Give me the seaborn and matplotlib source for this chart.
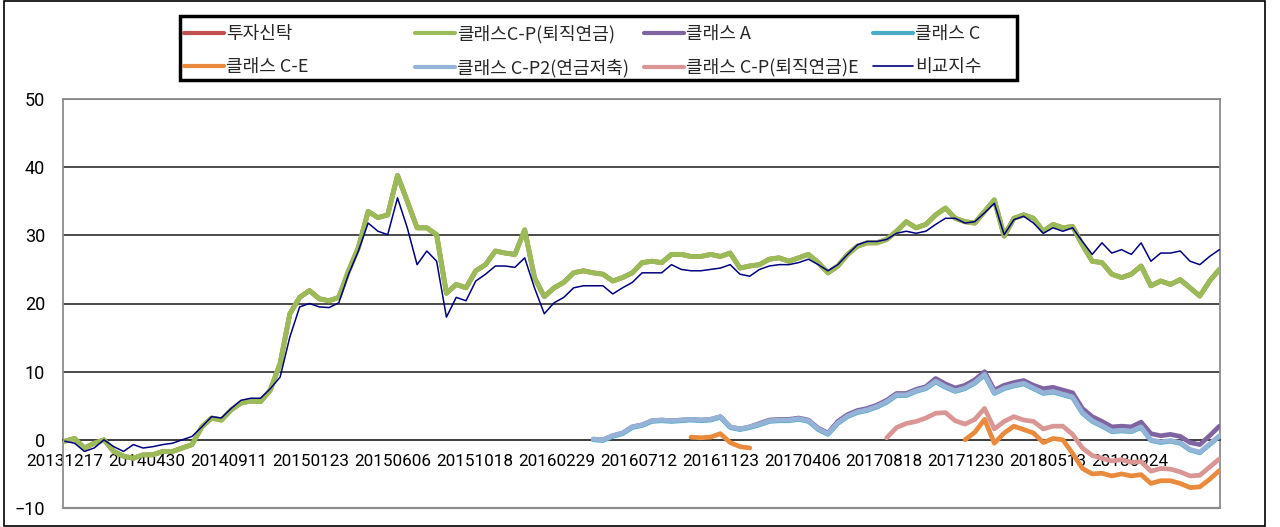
import matplotlib
matplotlib.use("Agg")
import matplotlib.pyplot as plt
from matplotlib.lines import Line2D
from matplotlib.patches import Rectangle
import seaborn as sns
import pandas as pd

# x grid: one reading every 16 days from the first date
start = pd.Timestamp("2013-12-17")
dates = pd.date_range(start, periods=119, freq="16D")

tick_labels = ["20131217", "20140430", "20140911", "20150123", "20150606",
               "20151018", "20160229", "20160712", "20161123", "20170406",
               "20170818", "20171230", "20180513", "20180924"]

# ---- series values ----
cp_vals = [-0.2, 0.2, -1.2, -0.5, 0.0, -1.7, -2.4, -2.7, -2.2, -2.2, -1.7, -1.7, -1.2, -0.7,
           1.9, 3.2, 2.9, 4.4, 5.4, 5.7, 5.6, 7.3, 11.2, 18.5, 20.9, 21.9, 20.7,
           20.4, 20.9, 24.8, 28.2, 33.5, 32.6, 33.0, 38.8, 35.0, 31.1, 31.1, 30.1, 21.5,
           22.8, 22.3, 24.8, 25.7, 27.7, 27.4, 27.2, 30.8, 23.8, 21.0, 22.3, 23.1, 24.5,
           24.8, 24.5,
           24.3, 23.3, 23.8, 24.5, 26.0, 26.2, 26.0, 27.2, 27.2, 26.9, 26.9, 27.2, 26.9,
           27.4, 25.2, 25.5, 25.7, 26.5, 26.7, 26.2, 26.7, 27.2, 26.0, 24.5, 25.5, 27.2,
           28.4, 28.9, 28.9, 29.4, 30.6,
           32.0, 31.1, 31.6, 33.0, 34.0, 32.5, 32.0, 31.8, 33.5, 35.2, 29.9, 32.5, 33.0,
           32.5, 30.6, 31.6, 31.1, 31.3, 28.6, 26.2, 26.0, 24.3, 23.8, 24.3, 25.5, 22.6,
           23.3, 22.8, 23.5, 22.3, 21.1, 23.3, 25.0]
trust_vals = list(cp_vals)  # sits right under the green line

index_vals = [-0.2, -0.5, -1.7, -1.2, 0.0, -1.0, -1.7, -0.7, -1.2, -1.0, -0.7, -0.5, 0.0, 0.5,
              1.9, 3.4, 3.2, 4.6, 5.8, 6.1, 6.1, 7.5, 9.2, 15.1, 19.5, 20.0, 19.5,
              19.4, 20.1, 24.3, 27.7, 31.8, 30.6, 30.1, 35.5, 31.1, 25.7, 27.7, 26.2, 18.0,
              20.9, 20.4, 23.3, 24.3, 25.5, 25.5, 25.3, 26.7, 22.3, 18.5, 20.1, 20.9, 22.3,
              22.6, 22.6,
              22.6, 21.4, 22.3, 23.1, 24.5, 24.5, 24.5, 25.7, 25.0, 24.8, 24.8, 25.0, 25.2,
              25.7, 24.3, 24.0, 25.0, 25.5, 25.7, 25.7, 26.0, 26.5, 25.7, 24.8, 25.7, 27.2,
              28.6, 29.1, 29.1, 29.4, 30.3,
              30.6, 30.3, 30.6, 31.6, 32.5, 32.5, 31.8, 32.0, 33.3, 34.7, 30.1, 32.3, 32.8,
              31.8, 30.3, 31.1, 30.6, 31.1, 29.1, 27.2, 28.9, 27.4, 27.9, 27.2, 28.9, 26.2,
              27.4, 27.4, 27.7, 26.2, 25.7, 26.9, 27.9]

class_a_start = 54
class_a_vals = [0.1, 0.0, 0.6, 1.0, 1.9, 2.2, 2.8, 2.9, 2.8, 2.9, 3.0, 2.9, 3.0, 3.4, 1.9,
                1.6, 1.9, 2.4, 2.9, 3.0, 3.0, 3.2, 2.9, 1.7, 1.0, 2.7, 3.7, 4.3, 4.6, 5.1,
                5.8, 6.8, 6.8, 7.4, 7.8, 9.0, 8.2, 7.6, 8.0, 8.8, 10.0, 7.3, 8.0, 8.4, 8.7,
                8.0, 7.5, 7.7, 7.3, 6.9, 4.6, 3.4, 2.7, 1.9, 2.0, 1.9, 2.6, 0.9, 0.6, 0.8,
                0.5, -0.4, -0.7, 0.6, 2.0]

class_c_start = 54
class_c_vals = [0.0, -0.1, 0.5, 0.9, 1.8, 2.1, 2.7, 2.8, 2.7, 2.8, 2.9, 2.8, 2.9, 3.3, 1.8,
                1.5, 1.8, 2.2, 2.7, 2.8, 2.8, 3.0, 2.7, 1.5, 0.8, 2.4, 3.4, 4.0, 4.3, 4.8,
                5.5, 6.5, 6.5, 7.1, 7.5, 8.5, 7.7, 7.1, 7.5, 8.3, 9.5, 6.8, 7.5, 7.9, 8.2,
                7.5, 6.8, 7.0, 6.6, 6.2, 3.9, 2.7, 2.0, 1.2, 1.3, 1.2, 1.8, -0.1, -0.4, -0.2,
                -0.5, -1.5, -1.9, -0.7, 0.5]

class_cp2_start = 54
class_cp2_vals = [0.1, 0.0, 0.6, 1.0, 1.9, 2.2, 2.8, 2.9, 2.8, 2.9, 3.0, 2.9, 3.0, 3.4, 1.9,
                  1.6, 1.9, 2.3, 2.8, 2.9, 2.9, 3.1, 2.8, 1.6, 0.9, 2.5, 3.5, 4.1, 4.4, 4.9,
                  5.6, 6.6, 6.6, 7.2, 7.6, 8.6, 7.8, 7.2, 7.6, 8.4, 9.6, 6.9, 7.6, 8.0, 8.3,
                  7.6, 6.9, 7.1, 6.7, 6.3, 4.0, 2.8, 2.1, 1.3, 1.4, 1.3, 1.9, 0.0, -0.3, -0.1,
                  -0.4, -1.4, -1.8, -0.6, 0.6]

class_ce_start1 = 64
class_ce_vals1 = [0.4, 0.3, 0.4, 0.9, -0.4, -1.0, -1.2]
class_ce_start2 = 92
class_ce_vals2 = [0.0, 1.1, 3.0, -0.5, 1.0, 2.0, 1.5, 1.0, -0.4, 0.2, 0.0, -2.0, -4.2, -5.0,
                  -4.9, -5.3, -5.0, -5.3, -5.1, -6.4, -6.0, -6.0, -6.4, -7.0, -6.9, -5.8, -4.5]

class_cpe_start = 84
class_cpe_vals = [0.3, 1.8, 2.4, 2.7, 3.2, 3.9, 4.0, 2.8, 2.3, 3.0, 4.6, 1.6, 2.7, 3.4, 2.9,
                  2.7, 1.6, 2.0, 2.0, 0.8, -1.2, -2.3, -2.7, -3.1, -2.9, -3.3, -3.2, -4.6,
                  -4.2, -4.3, -4.7, -5.3, -5.2, -4.0, -2.8]


def frame(name, first, vals, seg=0):
    return pd.DataFrame({"date": dates[first:first + len(vals)], "value": vals,
                         "series": name, "seg": seg})


df = pd.concat([
    frame("투자신탁", 0, trust_vals),
    frame("클래스C-P(퇴직연금)", 0, cp_vals),
    frame("클래스 A", class_a_start, class_a_vals),
    frame("클래스 C", class_c_start, class_c_vals),
    frame("클래스 C-E", class_ce_start1, class_ce_vals1, 0),
    frame("클래스 C-E", class_ce_start2, class_ce_vals2, 1),
    frame("클래스 C-P2(연금저축)", class_cp2_start, class_cp2_vals),
    frame("클래스 C-P(퇴직연금)E", class_cpe_start, class_cpe_vals),
    frame("비교지수", 0, index_vals),
])

# draw order follows the legend order (later ones sit on top)
styles = {
    "투자신탁": ("#C0504D", 3.4),
    "클래스C-P(퇴직연금)": ("#9BBB59", 3.6),
    "클래스 A": ("#8064A2", 3.4),
    "클래스 C": ("#4BACC6", 3.4),
    "클래스 C-E": ("#E98A3C", 3.4),
    "클래스 C-P2(연금저축)": ("#95B3D7", 3.4),
    "클래스 C-P(퇴직연금)E": ("#D99694", 3.4),
    "비교지수": ("#000080", 1.1),
}

sns.set_style("white")
plt.rcParams["font.family"] = ["Noto Sans CJK KR", "DejaVu Sans"]

fig = plt.figure(figsize=(12.8, 5.27), dpi=100)
ax = fig.add_axes([63 / 1280, 19 / 527, (1220 - 63) / 1280, (508 - 99) / 527])

for name, (color, lw) in styles.items():
    sub = df[df["series"] == name]
    sns.lineplot(data=sub, x="date", y="value", units="seg", estimator=None,
                 color=color, linewidth=lw, ax=ax, legend=False, zorder=3)

ax.set_xlim(start - pd.Timedelta(days=3), start + pd.Timedelta(days=1889))
ax.set_ylim(-10, 50)
ax.set_yticks(range(-10, 51, 10))
tick_pos = [pd.Timestamp(t) for t in tick_labels]
ax.set_xticks(tick_pos)
ax.set_xticklabels(tick_labels)
ax.set_xlabel("")
ax.set_ylabel("")
ax.tick_params(axis="x", length=0, pad=10, colors="black",
               labelsize=12.3, labelfontfamily="Roboto")
ax.tick_params(axis="y", length=0, pad=13, colors="black",
               labelsize=13, labelfontfamily="Roboto")

ax.set_axisbelow(True)
ax.grid(axis="y", color="#1a1a1a", linewidth=1.1)
ax.grid(axis="x", visible=False)
for side in ["left", "right", "top"]:
    ax.spines[side].set_color("#8c8c8c")
    ax.spines[side].set_linewidth(1.3)
ax.spines["bottom"].set_position(("data", 0))
ax.spines["bottom"].set_color("#404040")
ax.spines["bottom"].set_linewidth(1.3)
ax.axhline(-10, color="#8c8c8c", linewidth=1.6, zorder=4, clip_on=False)

# legend: four columns of two, inside a black box
order = list(styles.keys())
cols = [[order[0], order[4]], [order[1], order[5]], [order[2], order[6]], [order[3], order[7]]]
col_x = [184, 415, 644, 873]
for names, x in zip(cols, col_x):
    handles = [Line2D([0], [0], color=styles[n][0],
                      linewidth=3.0 if n != "비교지수" else 1.2) for n in names]
    fig.legend(handles, names, loc="upper left",
               bbox_to_anchor=(x / 1280, 1 - 25 / 527), frameon=False,
               fontsize=13, handlelength=2.2, handletextpad=0.15,
               borderpad=0, borderaxespad=0, labelspacing=0.85)

fig.patches.append(Rectangle((180 / 1280, 1 - 80 / 527), 837 / 1280, 64 / 527,
                             transform=fig.transFigure, fill=False,
                             edgecolor="black", linewidth=2.5))
fig.patches.append(Rectangle((4 / 1280, 0.002), 1261 / 1280, 0.996,
                             transform=fig.transFigure, fill=False,
                             edgecolor="black", linewidth=1.2))

fig.savefig("out.png", dpi=100)
